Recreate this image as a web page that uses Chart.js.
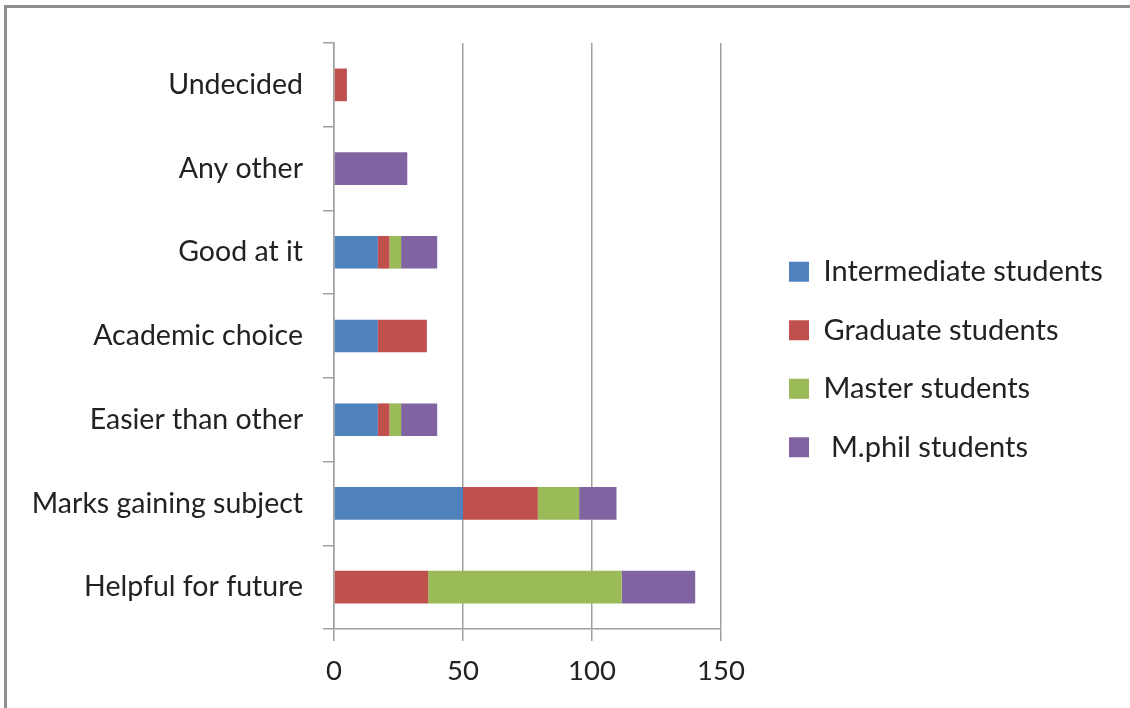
<!DOCTYPE html>
<html>
<head>
<meta charset="utf-8">
<script src="https://cdn.jsdelivr.net/npm/chart.js@4/dist/chart.umd.min.js"></script>
<style>
    html, body { margin: 0; padding: 0; background: #fff; }
    #wrap { position: relative; width: 1130px; height: 708px; overflow: hidden; }
    #frame {
        position: absolute; left: 4px; top: 5px; right: -10px; bottom: -10px;
        border-top: 3px solid #8e8e8e; border-left: 3px solid #8e8e8e;
        pointer-events: none;
    }
</style>
</head>
<body>
<div id="wrap">
    <canvas id="chart" width="1130" height="708"></canvas>
    <div id="frame"></div>
</div>
<script>
// ===== DATA =====
const categories = ['Undecided', 'Any other', 'Good at it', 'Academic choice',
    'Easier than other', 'Marks gaining subject', 'Helpful for future'];

const intermediate = [0, 0, 17, 17, 17, 50, 0];
const graduate = [5, 0, 4.5, 19, 4.5, 29, 36.5];
const master = [0, 0, 4.5, 0, 4.5, 16, 75];
const mphil = [0, 28.4, 14, 0, 14, 14.5, 28.5];

const seriesNames = ['Intermediate students', 'Graduate students', 'Master students', ' M.phil students'];
const xTicks = [0, 50, 100, 150];

// ===== STYLE =====
const blue = '#4f81bd';
const red = '#c0504d';
const green = '#9bbb59';
const purple = '#8064a2';
const gridColor = '#a0a0a0';
const textColor = '#222222';
const fontFamily = "Lato, 'Open Sans', sans-serif";

// plot box in page pixels
const plotLeft = 334;
const plotRight = 721;
const plotBottom = 629;
const legendBoxX = 789;
const legendShiftY = -16;

function makeDataset(label, data, color) {
    return {
        label: label,
        data: data,
        backgroundColor: color,
        borderWidth: 0,
        barPercentage: 0.39,
        categoryPercentage: 1.0
    };
}

// move the legend column next to the plot, where the original has it
const legendPlacer = {
    id: 'legendPlacer',
    afterLayout(chart) {
        const lg = chart.legend;
        if (!lg) return;
        const pad = lg.options.labels.padding;
        lg.left = legendBoxX - pad;
        lg.right = chart.width;
        lg.width = lg.right - lg.left;
        lg.top += legendShiftY;
        lg.bottom += legendShiftY;
    }
};

function drawChart() {
    const ctx = document.getElementById('chart');
    const W = ctx.width, H = ctx.height;

    new Chart(ctx, {
        type: 'bar',
        data: {
            labels: categories,
            datasets: [
                makeDataset(seriesNames[0], intermediate, blue),
                makeDataset(seriesNames[1], graduate, red),
                makeDataset(seriesNames[2], master, green),
                makeDataset(seriesNames[3], mphil, purple)
            ]
        },
        plugins: [legendPlacer],
        options: {
            indexAxis: 'y',
            responsive: false,
            animation: false,
            layout: {
                padding: { top: 43, left: 10, right: 20, bottom: 0 }
            },
            scales: {
                x: {
                    stacked: true,
                    min: 0,
                    max: 150,
                    afterBuildTicks: (axis) => {
                        axis.ticks = xTicks.map(v => ({ value: v }));
                    },
                    afterFit: (axis) => {
                        axis.height = H - plotBottom;
                        axis.paddingRight = W - plotRight;
                    },
                    grid: {
                        color: gridColor,
                        lineWidth: 1.5,
                        tickLength: 12,
                        drawOnChartArea: true
                    },
                    border: { color: gridColor, width: 1.5 },
                    ticks: {
                        color: textColor,
                        padding: 14,
                        font: { family: fontFamily, size: 27.5 }
                    }
                },
                y: {
                    stacked: true,
                    afterFit: (axis) => {
                        axis.width = plotLeft - 10;
                    },
                    grid: {
                        color: gridColor,
                        lineWidth: 1.5,
                        tickLength: 11,
                        drawOnChartArea: false,
                        offset: true
                    },
                    border: { color: gridColor, width: 1.5 },
                    ticks: {
                        color: textColor,
                        padding: 20,
                        font: { family: fontFamily, size: 28.5 }
                    }
                }
            },
            plugins: {
                legend: {
                    position: 'right',
                    align: 'center',
                    labels: {
                        color: textColor,
                        boxWidth: 20,
                        boxHeight: 20,
                        padding: 29.5,
                        font: { family: fontFamily, size: 29 }
                    }
                },
                tooltip: { enabled: false }
            }
        }
    });
}

Promise.all([
    document.fonts.load('28px Lato'),
    document.fonts.load('bold 28px Lato')
]).then(drawChart, drawChart);
</script>
</body>
</html>
